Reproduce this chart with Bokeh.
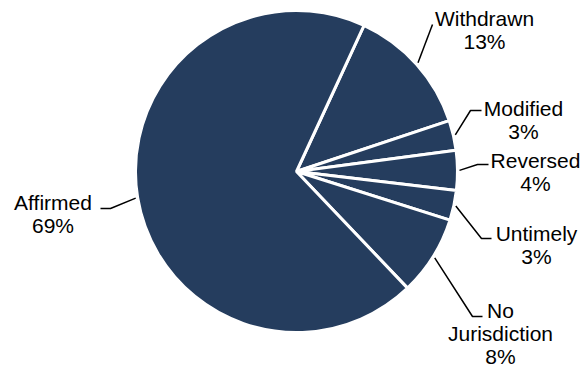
import numpy as np
from bokeh.plotting import figure
from bokeh.models import Range1d, ColumnDataSource
from bokeh.embed import file_html
from bokeh.resources import INLINE
from bokeh.core.properties import value

# ---- data ----
categories = ["Withdrawn", "Modified", "Reversed", "Untimely", "No Jurisdiction", "Affirmed"]
shares = [13, 3, 4, 3, 8, 69]
label_lines = [["Withdrawn"], ["Modified"], ["Reversed"], ["Untimely"], ["No", "Jurisdiction"], ["Affirmed"]]

# ---- layout (screen pixel coordinates of the page) ----
W, H = 582, 370
CX, CY = 296, 171
R = 161
START_DEG = 24.8           # clockwise from 12 o'clock
FILL = "#253D5E"
FONT = "Liberation Sans"
FONT_SIZE = "21px"
LINE_STEP = 23
TEXT_SHIFT = -7

label_anchor = [(484, 25), (523, 115), (535, 167), (536, 240), (500, 317), (52.5, 209)]
leader_elbow = [(432, 24), (470, 110), (477, 164), (481, 238), (472, 316), (110, 208)]
leader_end = [(432, 24), (481, 110), (488, 164), (491, 238), (482, 316), (100, 208)]


def sy(y):
    return H - y


p = figure(width=W, height=H, x_range=Range1d(0, W), y_range=Range1d(0, H),
           output_backend="svg", toolbar_location=None, min_border=0,
           x_axis_location=None, y_axis_location=None)
p.grid.visible = False
p.outline_line_color = None
p.background_fill_color = "white"
p.border_fill_color = "white"

vals = np.array(shares, dtype=float)
frac = vals / vals.sum()
cum_end = START_DEG + np.cumsum(frac) * 360.0
cum_start = cum_end - frac * 360.0
mid = (cum_start + cum_end) / 2.0

src = ColumnDataSource(dict(
    cat=categories,
    start=np.radians(90.0 - cum_start),
    end=np.radians(90.0 - cum_end),
))
p.wedge(x=CX, y=sy(CY), radius=R, start_angle="start", end_angle="end",
        direction="clock", fill_color=FILL, line_color="white", line_width=3,
        source=src)

# leader lines
xs, ys = [], []
for i in range(len(categories)):
    a = np.radians(mid[i])
    sx0 = CX + (R + 2) * np.sin(a)
    sy0 = CY - (R + 2) * np.cos(a)
    ex, ey = leader_elbow[i]
    nx, ny = leader_end[i]
    xs.append([sx0, ex, nx])
    ys.append([sy(sy0), sy(ey), sy(ny)])
p.multi_line(xs=xs, ys=ys, line_color="black", line_width=1.5)

# labels
tx, ty, tt = [], [], []
for i in range(len(categories)):
    lines = label_lines[i] + [f"{shares[i]}%"]
    ax, ay = label_anchor[i]
    for j, t in enumerate(lines):
        tx.append(ax)
        ty.append(sy(ay + TEXT_SHIFT + j * LINE_STEP))
        tt.append(t)
p.text(x=tx, y=ty, text=tt, text_align="center", text_baseline="alphabetic",
       text_font=value(FONT), text_font_size=FONT_SIZE, text_color="black")

open("out.html", "w").write(file_html(p, INLINE))
